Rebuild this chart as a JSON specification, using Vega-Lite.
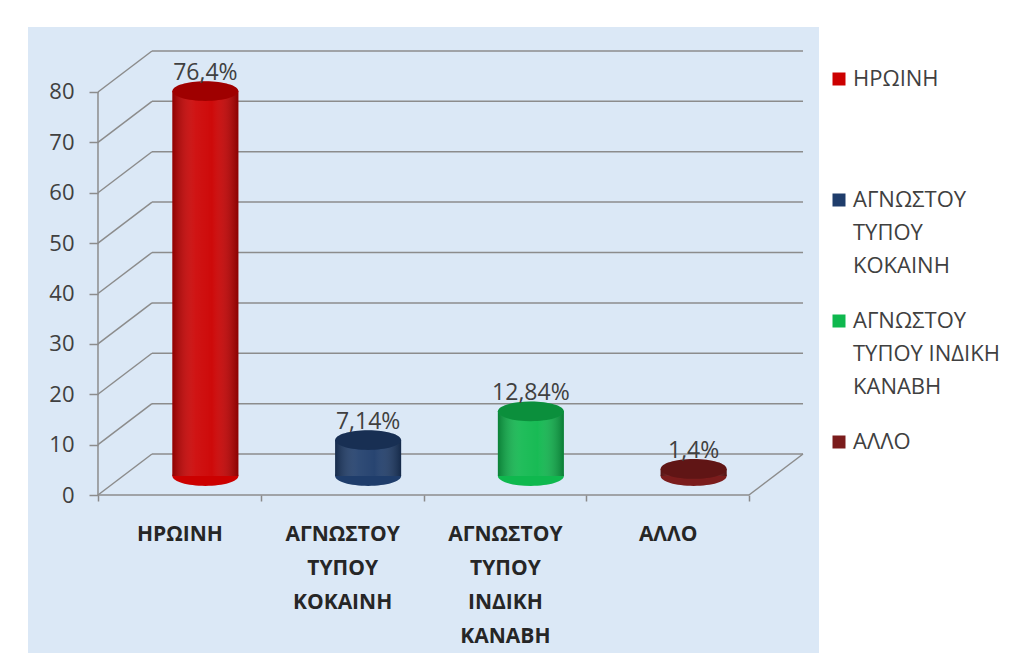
{
  "$schema": "https://vega.github.io/schema/vega-lite/v6.json",
  "autosize": {"type": "none"},
  "width": 791,
  "height": 626,
  "padding": {"left": 28, "top": 27, "right": 201, "bottom": 13},
  "background": "#ffffff",
  "config": {
    "view": {"stroke": null, "fill": "#dbe8f6"},
    "font": "Open Sans",
    "axis": {"grid": false},
    "style": {"guide-label": {"lineHeight": 33}}
  },
  "data": {
    "values": [
      {"cat": "ΗΡΩΙΝΗ", "v": 76.4, "lab": "76,4%"},
      {"cat": "ΑΓΝΩΣΤΟΥ ΤΥΠΟΥ ΚΟΚΑΙΝΗ", "v": 7.14, "lab": "7,14%"},
      {"cat": "ΑΓΝΩΣΤΟΥ ΤΥΠΟΥ ΙΝΔΙΚΗ ΚΑΝΑΒΗ", "v": 12.84, "lab": "12,84%"},
      {"cat": "ΑΛΛΟ", "v": 1.4, "lab": "1,4%"}
    ]
  },
  "encoding": {
    "x": {
      "field": "cat", "type": "nominal", "sort": null,
      "scale": {"domain": ["ΗΡΩΙΝΗ", "ΑΓΝΩΣΤΟΥ ΤΥΠΟΥ ΚΟΚΑΙΝΗ", "ΑΓΝΩΣΤΟΥ ΤΥΠΟΥ ΙΝΔΙΚΗ ΚΑΝΑΒΗ", "ΑΛΛΟ"], "paddingInner": 0, "paddingOuter": 0.43},
      "axis": {
        "title": null, "labelAngle": 0, "tickBand": "extent", "tickSize": 6, "domain": false,
        "offset": -158, "tickColor": "#8a8a8a", "tickWidth": 1.5,
        "labelFontSize": 21, "labelFontWeight": "bold", "labelColor": "#262626",
        "labelPadding": 22, "labelLineHeight": 34, "labelBaseline": "top",
        "labelExpr": "split(datum.label, ' ')"
      }
    }
  },
  "layer": [
    {
      "data": {"values": [{"g": 0}, {"g": 10}, {"g": 20}, {"g": 30}, {"g": 40}, {"g": 50}, {"g": 60}, {"g": 70}, {"g": 80}]},
      "mark": {"type": "rule", "color": "#8c8c8c", "strokeWidth": 1.5, "xOffset": 54, "x2Offset": 54, "yOffset": -41},
      "encoding": {
        "x": {"datum": "ΗΡΩΙΝΗ", "type": "nominal", "bandPosition": 0},
        "x2": {"datum": "ΑΛΛΟ", "bandPosition": 1},
        "y": {"field": "g", "type": "quantitative", "scale": {"domain": [-31.36, 92.9], "nice": false, "zero": false}}
      }
    },
    {
      "data": {"values": [{"g": 0}, {"g": 10}, {"g": 20}, {"g": 30}, {"g": 40}, {"g": 50}, {"g": 60}, {"g": 70}, {"g": 80}]},
      "mark": {"type": "rule", "color": "#8c8c8c", "strokeWidth": 1.5, "x2Offset": 54, "y2Offset": -41},
      "encoding": {
        "x": {"datum": "ΗΡΩΙΝΗ", "type": "nominal", "bandPosition": 0},
        "x2": {"datum": "ΗΡΩΙΝΗ", "bandPosition": 0},
        "y": {"field": "g", "type": "quantitative"},
        "y2": {"field": "g"}
      }
    },
    {
      "data": {"values": [{"g": 0}]},
      "mark": {"type": "rule", "color": "#8c8c8c", "strokeWidth": 1.5, "x2Offset": 54, "y2Offset": -41},
      "encoding": {
        "x": {"datum": "ΑΛΛΟ", "type": "nominal", "bandPosition": 1},
        "x2": {"datum": "ΑΛΛΟ", "bandPosition": 1},
        "y": {"field": "g", "type": "quantitative"},
        "y2": {"field": "g"}
      }
    },
    {
      "data": {"values": [{"g": 0}]},
      "mark": {"type": "rule", "color": "#8c8c8c", "strokeWidth": 1.5},
      "encoding": {
        "x": {"datum": "ΗΡΩΙΝΗ", "type": "nominal", "bandPosition": 0},
        "x2": {"datum": "ΑΛΛΟ", "bandPosition": 1},
        "y": {"field": "g", "type": "quantitative"}
      }
    },
    {
      "data": {"values": [{"g": 0, "g2": 80}]},
      "mark": {"type": "rule", "color": "#8c8c8c", "strokeWidth": 1.5},
      "encoding": {
        "x": {"datum": "ΗΡΩΙΝΗ", "type": "nominal", "bandPosition": 0},
        "y": {"field": "g", "type": "quantitative"},
        "y2": {"field": "g2"}
      }
    },
    {
      "mark": {"type": "point", "filled": true, "opacity": 1, "shape": "M-1,0A1,0.3,0,1,0,1,0A1,0.3,0,1,0,-1,0Z", "size": 4356, "xOffset": 26, "yOffset": -19},
      "encoding": {
        "y": {"datum": 0, "type": "quantitative"},
        "color": {"field": "cat", "type": "nominal", "sort": null}
      }
    },
    {
      "mark": {"type": "bar", "width": 66, "xOffset": 26, "yOffset": -19, "y2Offset": -19},
      "encoding": {
        "y": {
          "field": "v", "type": "quantitative",
          "axis": {
            "title": null, "values": [0, 10, 20, 30, 40, 50, 60, 70, 80], "domain": false,
            "offset": -70, "tickColor": "#8c8c8c", "tickWidth": 1.5,
            "labelFontSize": 22, "labelColor": "#404040", "tickSize": 9, "labelPadding": 15
          }
        },
        "y2": {"datum": 0},
        "color": {
          "field": "cat", "type": "nominal", "sort": null,
          "scale": {"range": ["#cc0000", "#1f3d6b", "#0fb84e", "#7b1c1c"]},
          "legend": {
            "title": null, "orient": "none", "legendX": 800, "legendY": 41, "padding": 0,
            "symbolType": "square", "symbolSize": 169, "symbolStrokeWidth": 0, "labelOffset": 3,
            "labelFontSize": 22, "labelColor": "#404040", "labelLimit": 220,
            "labelBaseline": "middle", "rowPadding": -15,
            "labelExpr": "datum.label == 'ΑΓΝΩΣΤΟΥ ΤΥΠΟΥ ΙΝΔΙΚΗ ΚΑΝΑΒΗ' ? ['ΑΓΝΩΣΤΟΥ', 'ΤΥΠΟΥ ΙΝΔΙΚΗ', 'ΚΑΝΑΒΗ', ''] : datum.label == 'ΑΓΝΩΣΤΟΥ ΤΥΠΟΥ ΚΟΚΑΙΝΗ' ? ['ΑΓΝΩΣΤΟΥ', 'ΤΥΠΟΥ', 'ΚΟΚΑΙΝΗ', ''] : [datum.label, '', '', '']"
          }
        }
      }
    },
    {
      "mark": {"type": "bar", "width": 66, "xOffset": 26, "yOffset": -19, "y2Offset": -19,
        "color": {"gradient": "linear", "x1": 0, "x2": 1, "y1": 0, "y2": 0,
          "stops": [
            {"offset": 0, "color": "rgba(0,0,0,0.3)"},
            {"offset": 0.35, "color": "rgba(255,255,255,0.08)"},
            {"offset": 0.6, "color": "rgba(255,255,255,0.04)"},
            {"offset": 1, "color": "rgba(0,0,0,0.32)"}
          ]}},
      "encoding": {"y": {"field": "v", "type": "quantitative"}, "y2": {"datum": 0}}
    },
    {
      "mark": {"type": "point", "filled": true, "opacity": 1, "shape": "M-1,0A1,0.3,0,1,0,1,0A1,0.3,0,1,0,-1,0Z", "size": 4356, "xOffset": 26, "yOffset": -19},
      "encoding": {
        "y": {"field": "v", "type": "quantitative"},
        "color": {"field": "cat", "type": "nominal", "sort": null}
      }
    },
    {
      "mark": {"type": "point", "filled": true, "opacity": 0.22, "color": "#000000", "shape": "M-1,0A1,0.3,0,1,0,1,0A1,0.3,0,1,0,-1,0Z", "size": 4356, "xOffset": 26, "yOffset": -19},
      "encoding": {"y": {"field": "v", "type": "quantitative"}}
    },
    {
      "mark": {"type": "text", "fontSize": 23, "color": "#404040", "baseline": "middle", "xOffset": 26, "yOffset": -37},
      "encoding": {"y": {"field": "v", "type": "quantitative"}, "text": {"field": "lab"}}
    }
  ]
}
